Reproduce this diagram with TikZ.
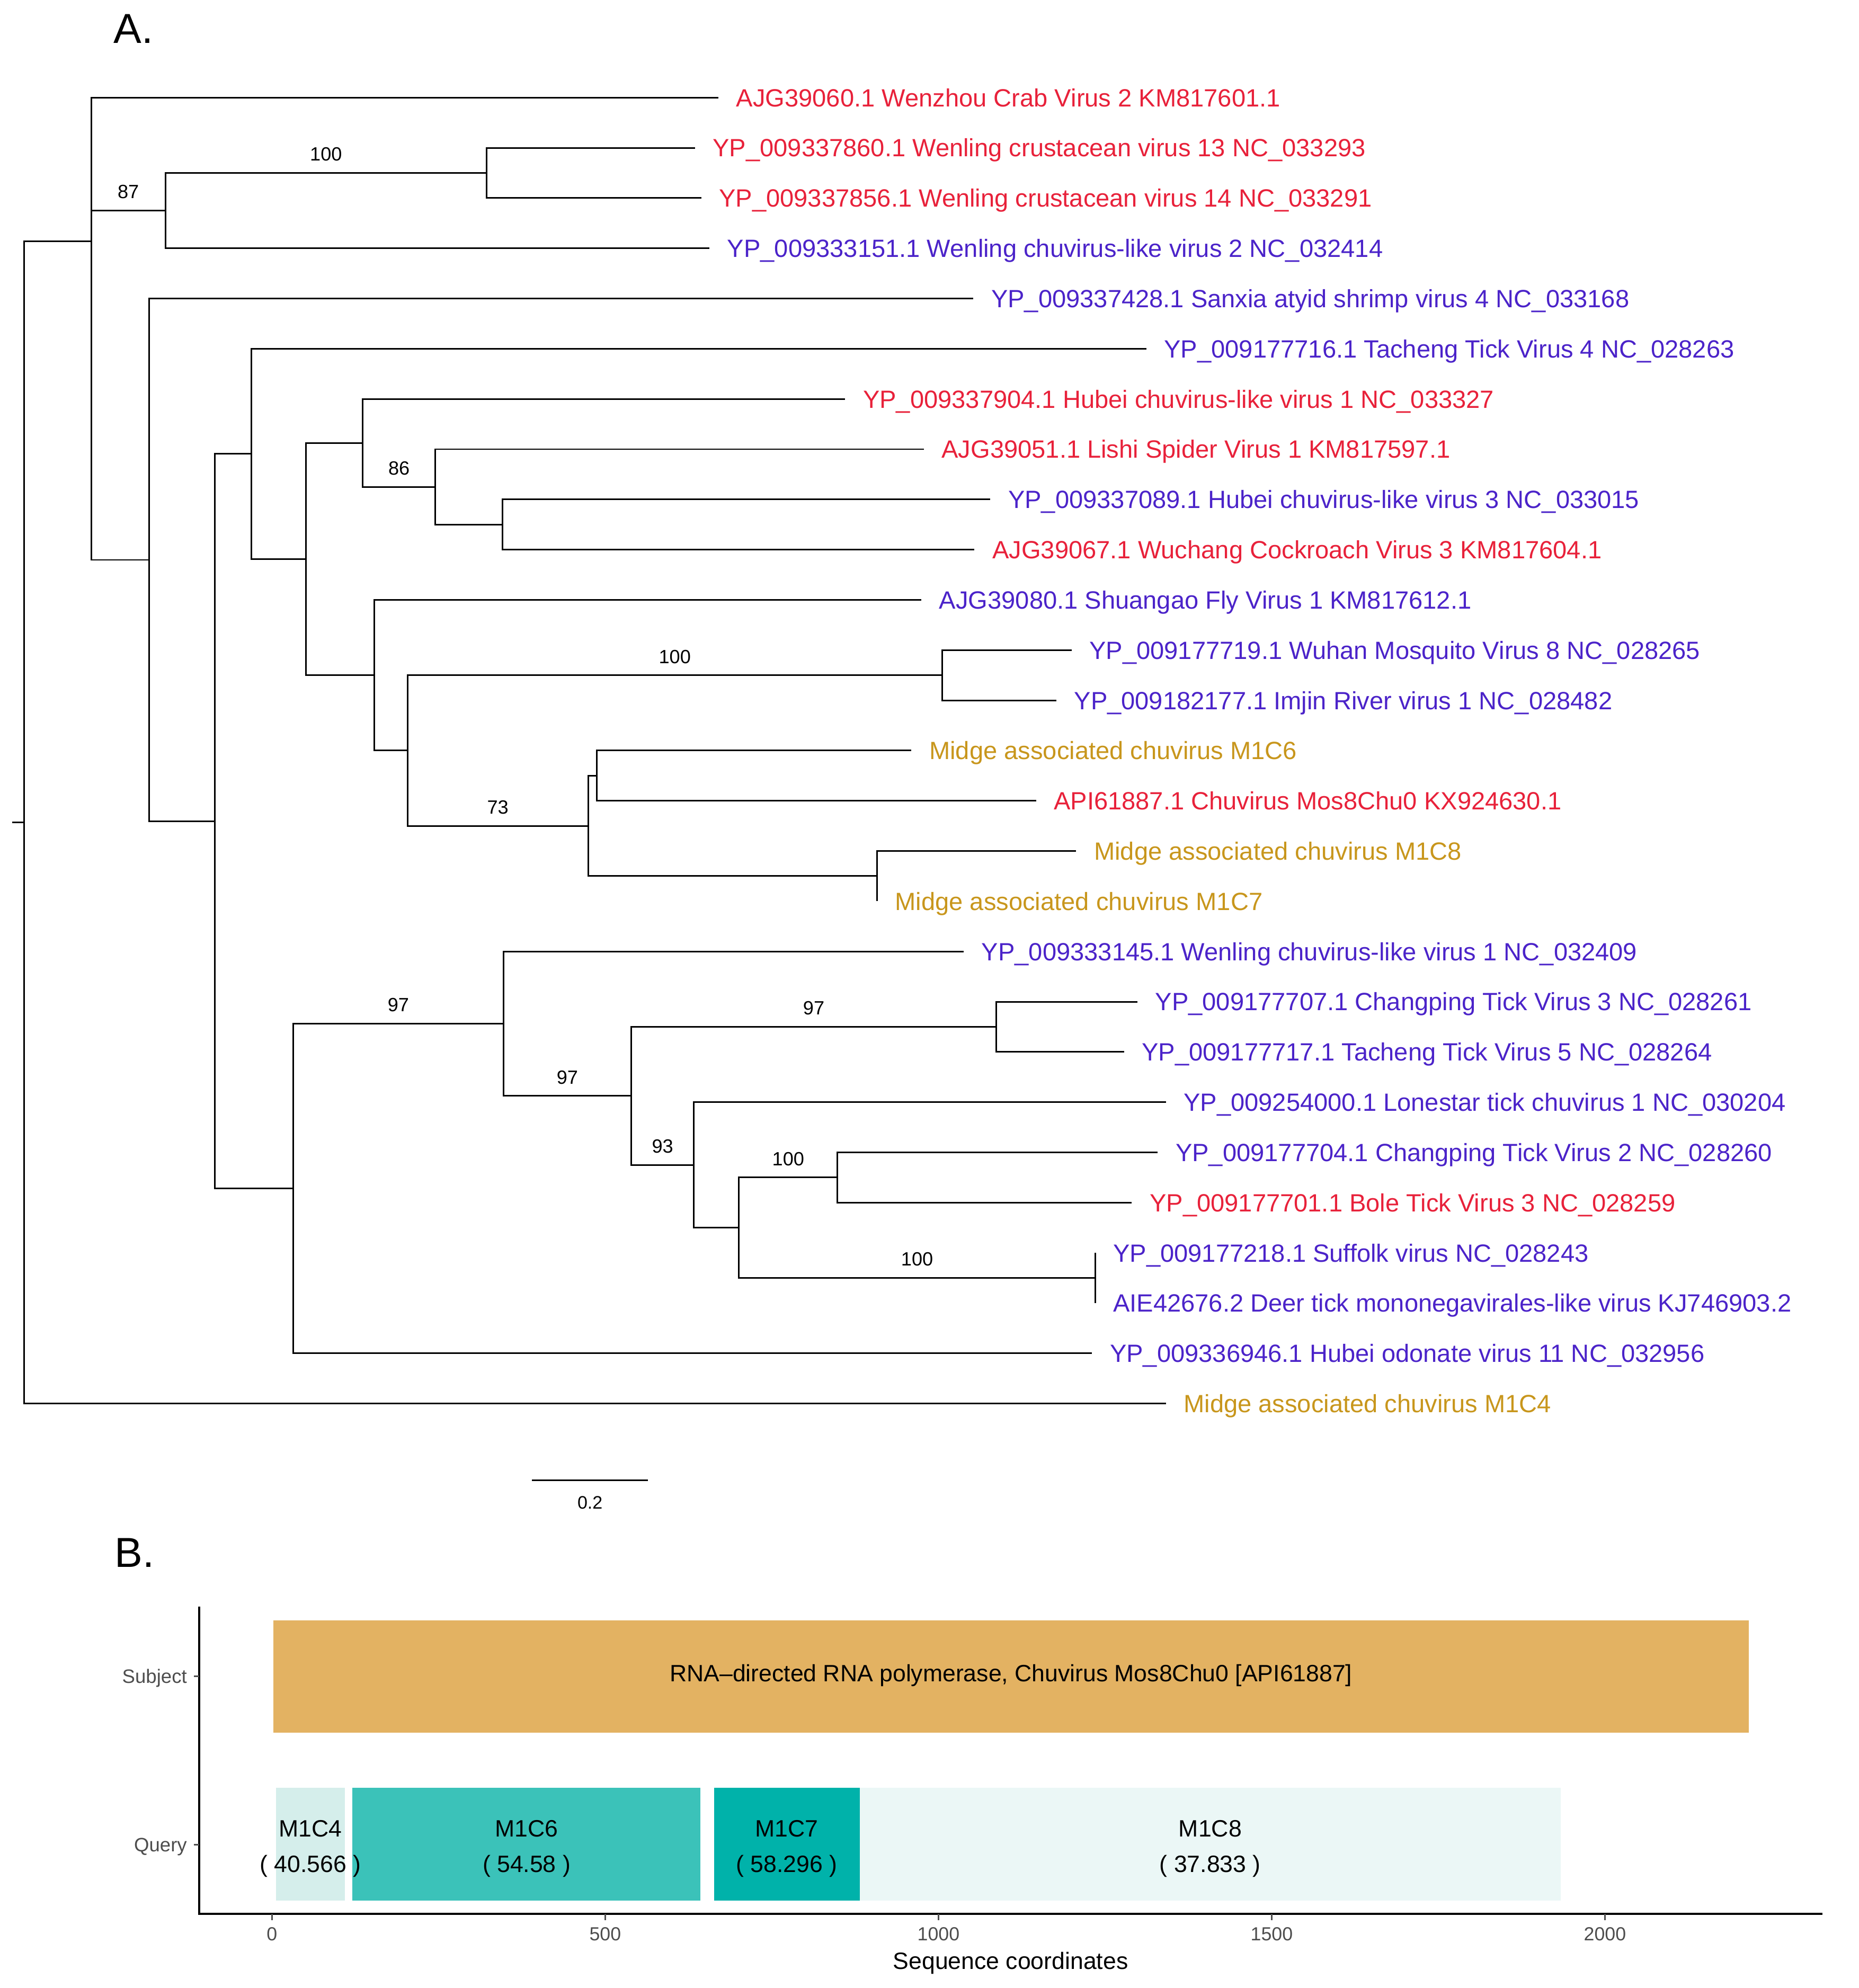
\documentclass[tikz,border=0pt]{standalone}
\usepackage{fontspec}
\setmainfont{Liberation Sans}
\usetikzlibrary{positioning}

\definecolor{tipred}{HTML}{E8213A}
\definecolor{tipblue}{HTML}{4B23C9}
\definecolor{tipgold}{HTML}{C8961C}
\definecolor{subjfill}{HTML}{E3B262}
\definecolor{hitlow}{HTML}{D5EEEB}
\definecolor{hitmid}{HTML}{3BC2B9}
\definecolor{hithigh}{HTML}{00B2AA}
\definecolor{hitfaint}{HTML}{EBF7F6}
\definecolor{axisgrey}{HTML}{4D4D4D}

\begin{document}
\begin{tikzpicture}[x=0.02cm, y=-0.02cm, line width=0.7pt]
    % Define styles
    \tikzset{
        leaf/.style={anchor=base west, inner sep=0pt, xshift=0.27cm, yshift=-4pt, font=\fontsize{11.2}{13}\selectfont},
        redleaf/.style={leaf, text=tipred},
        blueleaf/.style={leaf, text=tipblue},
        goldleaf/.style={leaf, text=tipgold},
        boot/.style={anchor=base, inner sep=0pt, yshift=0.19cm, font=\fontsize{8.6}{10}\selectfont},
        panel/.style={anchor=base west, inner sep=0pt, font=\fontsize{18.8}{22}\selectfont},
        hitlabel/.style={align=center, inner sep=0pt, font=\fontsize{10.6}{15.9}\selectfont},
        ticklabel/.style={anchor=base, inner sep=0pt, text=axisgrey, font=\fontsize{8.5}{10}\selectfont},
        rowlabel/.style={anchor=base east, inner sep=0pt, text=axisgrey, yshift=-3.1pt, font=\fontsize{8.7}{10}\selectfont}
    }
    \useasboundingbox (0,0) rectangle (1466,1568);

    % PANEL A: tree
    \node[panel] (labA) at (89,34) {A.};

    % Coordinates
    \coordinate (stem) at (9.6,648.7);
    \coordinate (root) at (19.2,648.7);
    \coordinate (v_top) at (71.9,190.4);
    \coordinate (v_wenling) at (130.5,166.1);
    \coordinate (v_crust) at (383.7,136.4);
    \coordinate (v_main) at (117.5,441.6);
    \coordinate (v_split) at (169.3,647.7);
    \coordinate (v_tacheng) at (198.1,358.0);
    \coordinate (v_inner) at (241.2,441.0);
    \coordinate (v_hubei) at (285.9,349.4);
    \coordinate (v_lishi) at (343.4,384.0);
    \coordinate (v_wuchang) at (396.2,413.7);
    \coordinate (v_fly) at (295.0,532.6);
    \coordinate (v_mos) at (321.3,592.0);
    \coordinate (v_wuhan) at (743.0,532.6);
    \coordinate (v_midge) at (463.9,651.4);
    \coordinate (v_m1c6) at (470.6,611.8);
    \coordinate (v_m1c8) at (691.8,691.0);
    \coordinate (v_tick) at (231.2,937.4);
    \coordinate (v_wenl1) at (397.1,807.4);
    \coordinate (v_ticks) at (497.8,864.4);
    \coordinate (v_changp) at (785.7,809.9);
    \coordinate (v_lone) at (547.2,918.8);
    \coordinate (v_bole) at (582.7,968.4);
    \coordinate (v_cp2) at (660.5,928.7);
    \coordinate (v_suff) at (863.8,1008.0);

    % Endpoints of the leaves
    \coordinate (t1) at (566.5,77.0);
    \coordinate (t2) at (548.0,116.6);
    \coordinate (t3) at (553.0,156.2);
    \coordinate (t4) at (559.5,195.8);
    \coordinate (t5) at (767.6,235.5);
    \coordinate (t6) at (904.0,275.1);
    \coordinate (t7) at (666.5,314.7);
    \coordinate (t8) at (728.5,354.3);
    \coordinate (t9) at (781.0,393.9);
    \coordinate (t10) at (768.5,433.5);
    \coordinate (t11) at (726.6,473.2);
    \coordinate (t12) at (845.0,512.8);
    \coordinate (t13) at (833.0,552.4);
    \coordinate (t14) at (718.8,592.0);
    \coordinate (t15) at (817.0,631.6);
    \coordinate (t16) at (848.7,671.2);
    \coordinate (t17) at (691.8,710.8);
    \coordinate (t18) at (760.0,750.5);
    \coordinate (t19) at (897.0,790.1);
    \coordinate (t20) at (886.4,829.7);
    \coordinate (t21) at (919.4,869.3);
    \coordinate (t22) at (913.0,908.9);
    \coordinate (t23) at (892.6,948.5);
    \coordinate (t24) at (863.8,988.2);
    \coordinate (t25) at (863.8,1027.8);
    \coordinate (t26) at (861.2,1067.4);
    \coordinate (t27) at (919.4,1107.0);

    % Lines
    \draw (stem) -- (root);
    \draw (root) |- (v_top);
    \draw (root) |- (t27);
    \draw (v_top) |- (t1);
    \draw (v_top) |- (v_wenling) node[pos=0.75, boot] {87};
    \draw (v_top) |- (v_main);
    \draw (v_wenling) |- (v_crust) node[pos=0.75, boot] {100};
    \draw (v_wenling) |- (t4);
    \draw (v_crust) |- (t2);
    \draw (v_crust) |- (t3);
    \draw (v_main) |- (t5);
    \draw (v_main) |- (v_split);
    \draw (v_split) |- (v_tacheng);
    \draw (v_split) |- (v_tick);
    \draw (v_tacheng) |- (t6);
    \draw (v_tacheng) |- (v_inner);
    \draw (v_inner) |- (v_hubei);
    \draw (v_inner) |- (v_fly);
    \draw (v_hubei) |- (t7);
    \draw (v_hubei) |- (v_lishi) node[pos=0.75, boot] {86};
    \draw (v_lishi) |- (t8);
    \draw (v_lishi) |- (v_wuchang);
    \draw (v_wuchang) |- (t9);
    \draw (v_wuchang) |- (t10);
    \draw (v_fly) |- (t11);
    \draw (v_fly) |- (v_mos);
    \draw (v_mos) |- (v_wuhan) node[pos=0.75, boot] {100};
    \draw (v_mos) |- (v_midge) node[pos=0.75, boot] {73};
    \draw (v_wuhan) |- (t12);
    \draw (v_wuhan) |- (t13);
    \draw (v_midge) |- (v_m1c6);
    \draw (v_midge) |- (v_m1c8);
    \draw (v_m1c6) |- (t14);
    \draw (v_m1c6) |- (t15);
    \draw (v_m1c8) |- (t16);
    \draw (v_m1c8) |- (t17);
    \draw (v_tick) |- (v_wenl1) node[pos=0.75, boot] {97};
    \draw (v_tick) |- (t26);
    \draw (v_wenl1) |- (t18);
    \draw (v_wenl1) |- (v_ticks) node[pos=0.75, boot] {97};
    \draw (v_ticks) |- (v_changp) node[pos=0.75, boot] {97};
    \draw (v_ticks) |- (v_lone) node[pos=0.75, boot] {93};
    \draw (v_changp) |- (t19);
    \draw (v_changp) |- (t20);
    \draw (v_lone) |- (t21);
    \draw (v_lone) |- (v_bole);
    \draw (v_bole) |- (v_cp2) node[pos=0.75, boot] {100};
    \draw (v_bole) |- (v_suff) node[pos=0.75, boot] {100};
    \draw (v_cp2) |- (t22);
    \draw (v_cp2) |- (t23);
    \draw (v_suff) |- (t24);
    \draw (v_suff) |- (t25);

    % Leaf labels
    \node[redleaf] (l1) at (t1) {AJG39060.1 Wenzhou Crab Virus 2 KM817601.1};
    \node[redleaf] (l2) at (t2) {YP\_009337860.1 Wenling crustacean virus 13 NC\_033293};
    \node[redleaf] (l3) at (t3) {YP\_009337856.1 Wenling crustacean virus 14 NC\_033291};
    \node[blueleaf] (l4) at (t4) {YP\_009333151.1 Wenling chuvirus-like virus 2 NC\_032414};
    \node[blueleaf] (l5) at (t5) {YP\_009337428.1 Sanxia atyid shrimp virus 4 NC\_033168};
    \node[blueleaf] (l6) at (t6) {YP\_009177716.1 Tacheng Tick Virus 4 NC\_028263};
    \node[redleaf] (l7) at (t7) {YP\_009337904.1 Hubei chuvirus-like virus 1 NC\_033327};
    \node[redleaf] (l8) at (t8) {AJG39051.1 Lishi Spider Virus 1 KM817597.1};
    \node[blueleaf] (l9) at (t9) {YP\_009337089.1 Hubei chuvirus-like virus 3 NC\_033015};
    \node[redleaf] (l10) at (t10) {AJG39067.1 Wuchang Cockroach Virus 3 KM817604.1};
    \node[blueleaf] (l11) at (t11) {AJG39080.1 Shuangao Fly Virus 1 KM817612.1};
    \node[blueleaf] (l12) at (t12) {YP\_009177719.1 Wuhan Mosquito Virus 8 NC\_028265};
    \node[blueleaf] (l13) at (t13) {YP\_009182177.1 Imjin River virus 1 NC\_028482};
    \node[goldleaf] (l14) at (t14) {Midge associated chuvirus M1C6};
    \node[redleaf] (l15) at (t15) {API61887.1 Chuvirus Mos8Chu0 KX924630.1};
    \node[goldleaf] (l16) at (t16) {Midge associated chuvirus M1C8};
    \node[goldleaf] (l17) at (t17) {Midge associated chuvirus M1C7};
    \node[blueleaf] (l18) at (t18) {YP\_009333145.1 Wenling chuvirus-like virus 1 NC\_032409};
    \node[blueleaf] (l19) at (t19) {YP\_009177707.1 Changping Tick Virus 3 NC\_028261};
    \node[blueleaf] (l20) at (t20) {YP\_009177717.1 Tacheng Tick Virus 5 NC\_028264};
    \node[blueleaf] (l21) at (t21) {YP\_009254000.1 Lonestar tick chuvirus 1 NC\_030204};
    \node[blueleaf] (l22) at (t22) {YP\_009177704.1 Changping Tick Virus 2 NC\_028260};
    \node[redleaf] (l23) at (t23) {YP\_009177701.1 Bole Tick Virus 3 NC\_028259};
    \node[blueleaf] (l24) at (t24) {YP\_009177218.1 Suffolk virus NC\_028243};
    \node[blueleaf] (l25) at (t25) {AIE42676.2 Deer tick mononegavirales-like virus KJ746903.2};
    \node[blueleaf] (l26) at (t26) {YP\_009336946.1 Hubei odonate virus 11 NC\_032956};
    \node[goldleaf] (l27) at (t27) {Midge associated chuvirus M1C4};

    % Scale bar
    \coordinate (sb_l) at (419.6,1167.6);
    \coordinate (sb_r) at (511.0,1167.6);
    \draw (sb_l) -- (sb_r) node[midway, anchor=base, inner sep=0pt, yshift=-0.45cm, font=\fontsize{8.1}{10}\selectfont] {0.2};

    % PANEL B: hits on the subject
    \node[panel] (labB) at (90,1236) {B.};

    % Axes
    \coordinate (ax_top) at (157,1267);
    \coordinate (ax_org) at (157,1509.5);
    \coordinate (ax_end) at (1437,1509.5);
    \draw[line width=0.85pt] (ax_top) -- (ax_org) -- (ax_end);
    \foreach \v in {0,500,1000,1500,2000} {
        \draw[axisgrey, line width=0.6pt] ({214.5+0.5256*\v},1509.5) -- ++(0,5);
        \node[ticklabel] at ({214.5+0.5256*\v},1530.4) {\v};
    }
    \draw[axisgrey, line width=0.6pt] (157,1322) -- ++(-4,0);
    \draw[axisgrey, line width=0.6pt] (157,1455) -- ++(-4,0);
    \node[rowlabel] (ysub) at (148,1322) {Subject};
    \node[rowlabel] (yqry) at (148,1455) {Query};
    \node[anchor=base, inner sep=0pt, font=\fontsize{10.6}{13}\selectfont] (xlab) at (797,1553) {Sequence coordinates};

    % Bars
    \fill[subjfill] (215.6,1278) rectangle (1379,1366.5);
    \fill[hitlow] (217.7,1410) rectangle (272,1499);
    \fill[hitmid] (278,1410) rectangle (552.5,1499);
    \fill[hithigh] (563,1410) rectangle (678,1499);
    \fill[hitfaint] (678,1410) rectangle (1230.7,1499);
    \node[hitlabel] (subj) at (797.3,1321.5) {RNA--directed RNA polymerase, Chuvirus Mos8Chu0 [API61887]};
    \node[hitlabel] (q4) at (244.9,1458) {M1C4\\( 40.566 )};
    \node[hitlabel] (q6) at (415.3,1458) {M1C6\\( 54.58 )};
    \node[hitlabel] (q7) at (620.5,1458) {M1C7\\( 58.296 )};
    \node[hitlabel] (q8) at (954.4,1458) {M1C8\\( 37.833 )};

\end{tikzpicture}
\end{document}
